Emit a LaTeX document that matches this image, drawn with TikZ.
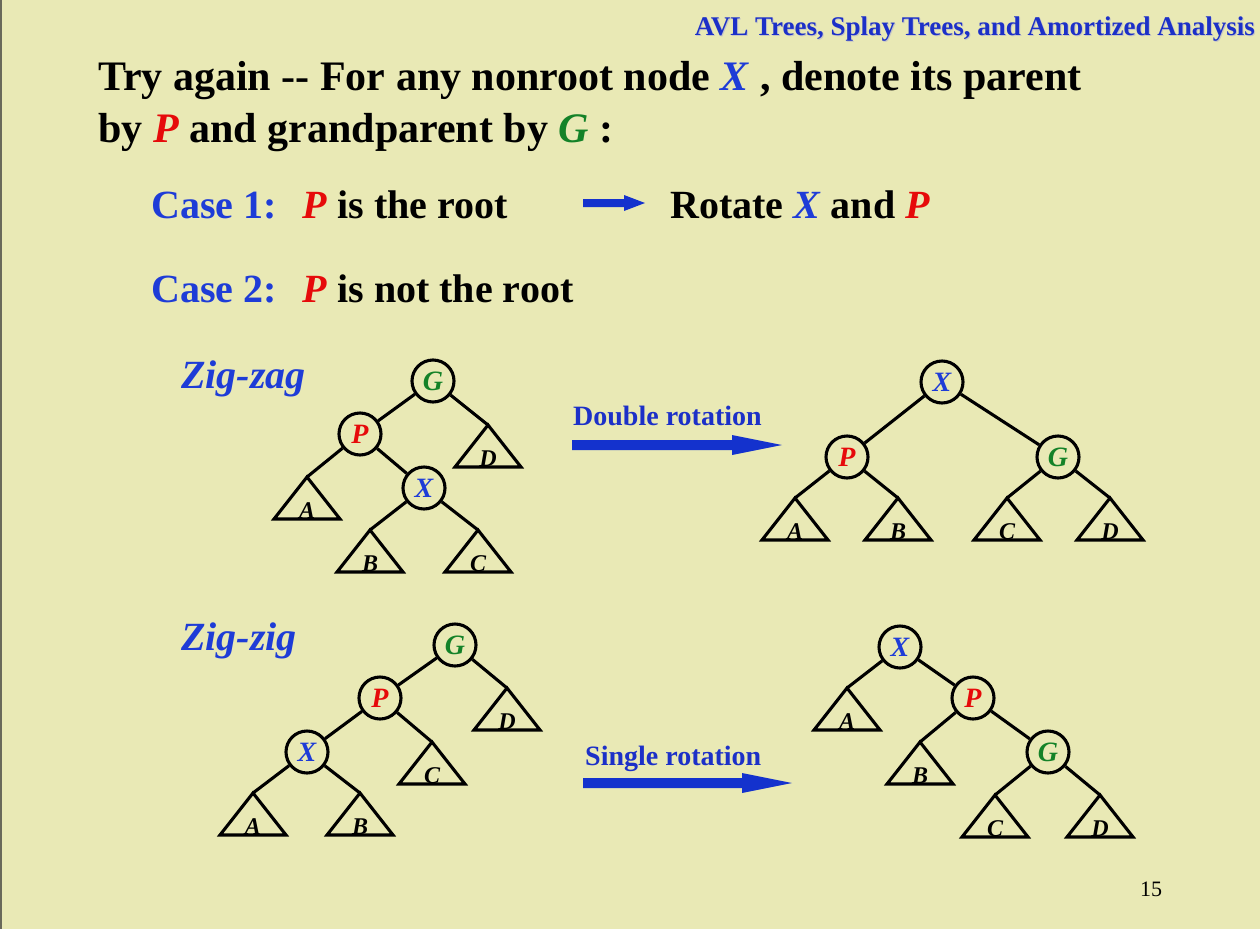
\documentclass[tikz,border=0pt]{standalone}
\usepackage{fontspec}
\setmainfont{Liberation Serif}
\definecolor{bg}{RGB}{233,233,181}
\definecolor{hblue}{RGB}{28,48,200}
\definecolor{xblue}{RGB}{30,60,215}
\definecolor{xred}{RGB}{230,10,10}
\definecolor{xgreen}{RGB}{20,130,40}
\definecolor{arrblue}{RGB}{20,50,205}
\definecolor{edgegray}{RGB}{105,105,90}
\newcommand\sfs[1]{\fontsize{#1}{#1}\selectfont}
\newcommand\Xl{\textcolor{xblue}{\textit{X}}}
\newcommand\Pl{\textcolor{xred}{\textit{P}}}
\newcommand\Gl{\textcolor{xgreen}{\textit{G}}}
\tikzset{
  tn/.style={circle, draw=black, line width=3.1pt, minimum size=42pt, inner sep=0pt,
    font=\sfs{28}\bfseries\itshape},
  ed/.style={line width=3.1pt},
  tri/.style={line width=3.1pt, line join=miter},
  trilab/.style={inner sep=0pt, anchor=base, font=\sfs{24}\bfseries\itshape},
  txt/.style={inner sep=0pt, anchor=base west},
  big/.style={txt, font=\sfs{42}\bfseries},
  cs/.style={txt, font=\sfs{40}\bfseries},
  zz/.style={txt, font=\sfs{40}\bfseries\itshape, text=xblue},
  rot/.style={txt, font=\sfs{28}\bfseries, text=hblue},
}
\newcommand\subtree[4]{%
  \coordinate (#1) at (#2,#3);
  \draw[tri] (#1) -- ++(-33,42) -- ++(66,0) -- cycle;
  \node[trilab] (#1l) at (#2,#3+41) {#4};
}
\begin{document}
\begin{tikzpicture}[x=1pt,y=-1pt]
\useasboundingbox (0,0) rectangle (1260,929);
\fill[bg] (0,0) rectangle (1260,929);
\draw[edgegray, line width=2pt] (1,0) -- (1,929);

% header
\node[inner sep=0pt, anchor=base east, font=\sfs{27}\bfseries, text=gray!45] (hdrs) at (1256,36) {AVL Trees, Splay Trees, and Amortized Analysis};
\node[inner sep=0pt, anchor=base east, font=\sfs{27}\bfseries, text=hblue] (hdr) at (1255,35) {AVL Trees, Splay Trees, and Amortized Analysis};

% main text
\node[big] (l1) at (98,90) {Try again -{}- For any nonroot node \Xl\ , denote its parent};
\node[big] (l2) at (98,142) {by \Pl\ and grandparent by \Gl\ :};

\node[cs] (c1) at (151,218) {\textcolor{xblue}{Case 1:}\hspace*{26pt}\Pl\ is the root};
\node[cs] (c1r) at (670,218) {Rotate \Xl\ and \Pl};
\node[cs] (c2) at (151,302) {\textcolor{xblue}{Case 2:}\hspace*{26pt}\Pl\ is not the root};
\fill[arrblue] (583,199) -- (624,199) -- (624,195) -- (645,203) -- (624,211) -- (624,207) -- (583,207) -- cycle;

% labels
\node[zz] (zzag) at (181,388) {Zig-zag};
\node[zz] (zzig) at (181,650) {Zig-zig};
\node[rot] (dr) at (573,425) {Double rotation};
\node[rot] (sr) at (585,765) {Single rotation};
\fill[arrblue] (572,440) -- (732,440) -- (732,435) -- (782,445) -- (732,455) -- (732,450) -- (572,450) -- cycle;
\fill[arrblue] (583,778) -- (742,778) -- (742,773) -- (792,783) -- (742,793) -- (742,788) -- (583,788) -- cycle;

% ---- zig-zag, before
\node[tn] (G1) at (433,381) {\Gl};
\node[tn] (P1) at (360,434) {\Pl};
\node[tn] (X1) at (424,488) {\Xl};
\subtree{A1}{307}{477}{A}
\subtree{D1}{488}{425}{D}
\subtree{B1}{370}{530}{B}
\subtree{C1}{478}{530}{C}
\draw[ed] (G1) -- (P1);
\draw[ed] (G1) -- (D1);
\draw[ed] (P1) -- (A1);
\draw[ed] (P1) -- (X1);
\draw[ed] (X1) -- (B1);
\draw[ed] (X1) -- (C1);

% ---- zig-zag, after
\node[tn] (X2) at (942,382) {\Xl};
\node[tn] (P2) at (847,457) {\Pl};
\node[tn] (G2) at (1058,457) {\Gl};
\subtree{A2}{795}{498}{A}
\subtree{B2}{898}{498}{B}
\subtree{C2}{1007}{498}{C}
\subtree{D2}{1110}{498}{D}
\draw[ed] (X2) -- (P2);
\draw[ed] (X2) -- (G2);
\draw[ed] (P2) -- (A2);
\draw[ed] (P2) -- (B2);
\draw[ed] (G2) -- (C2);
\draw[ed] (G2) -- (D2);

% ---- zig-zig, before
\node[tn] (G3) at (455,645) {\Gl};
\node[tn] (P3) at (380,698) {\Pl};
\node[tn] (X3) at (307,752) {\Xl};
\subtree{D3}{507}{688}{D}
\subtree{C3}{432}{742}{C}
\subtree{A3}{253}{793}{A}
\subtree{B3}{360}{793}{B}
\draw[ed] (G3) -- (P3);
\draw[ed] (G3) -- (D3);
\draw[ed] (P3) -- (X3);
\draw[ed] (P3) -- (C3);
\draw[ed] (X3) -- (A3);
\draw[ed] (X3) -- (B3);

% ---- zig-zig, after
\node[tn] (X4) at (900,647) {\Xl};
\node[tn] (P4) at (973,698) {\Pl};
\node[tn] (G4) at (1048,752) {\Gl};
\subtree{A4}{847}{688}{A}
\subtree{B4}{920}{742}{B}
\subtree{C4}{995}{795}{C}
\subtree{D4}{1100}{795}{D}
\draw[ed] (X4) -- (A4);
\draw[ed] (X4) -- (P4);
\draw[ed] (P4) -- (B4);
\draw[ed] (P4) -- (G4);
\draw[ed] (G4) -- (C4);
\draw[ed] (G4) -- (D4);

% page number
\node[txt, font=\sfs{22}] (pg) at (1140,896) {15};
\end{tikzpicture}
\end{document}
